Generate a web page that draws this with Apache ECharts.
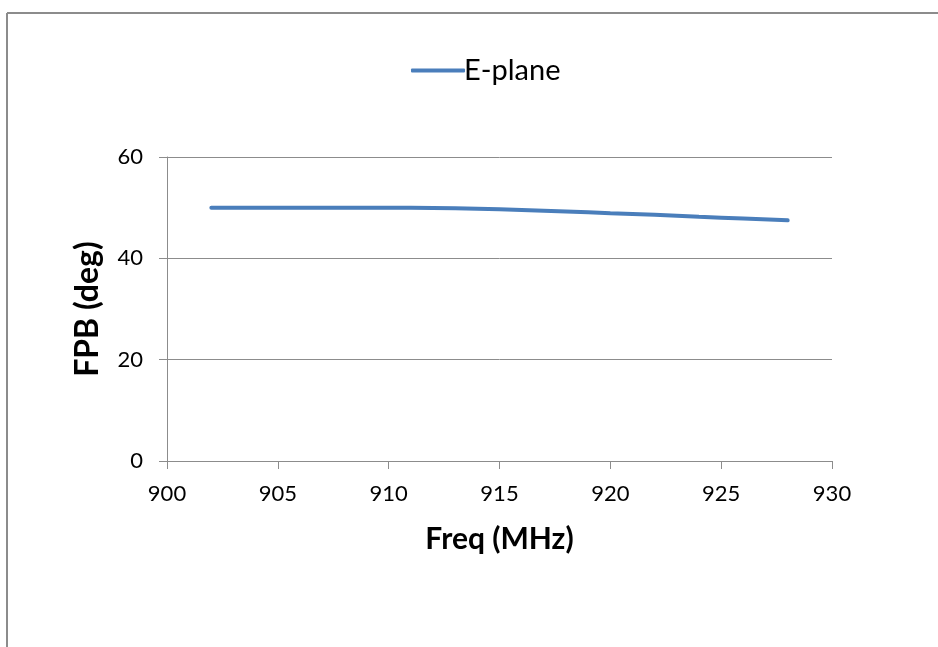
<!DOCTYPE html>
<html><head><meta charset="utf-8">
<script src="https://cdn.jsdelivr.net/npm/echarts@6/dist/echarts.min.js"></script>
<style>html,body{margin:0;padding:0;background:#fff}#c{width:938px;height:647px}</style>
</head><body><div id="c"></div>
<script>
const seriesName = 'E-plane';
const freq = [902, 904, 906, 908, 910, 912, 914, 916, 918, 920, 922, 924, 926, 928];
const fpb  = [50.0, 50.0, 50.0, 50.0, 50.0, 49.95, 49.8, 49.55, 49.25, 48.9, 48.6, 48.2, 47.85, 47.5];
const xTicks = [900, 905, 910, 915, 920, 925, 930];
const yTicks = [0, 20, 40, 60];
const xTitle = 'Freq (MHz)';
const yTitle = 'FPB (deg)';

const chart = echarts.init(document.getElementById('c'), null, {renderer: 'canvas'});
const font = 'Lato, "Open Sans", "Noto Sans", sans-serif';
chart.setOption({
  animation: false,
  backgroundColor: '#fff',
  graphic: [
    {type: 'line', shape: {x1: 7, y1: 13, x2: 938, y2: 13}, style: {stroke: '#8c8c8c', lineWidth: 2}},
    {type: 'line', shape: {x1: 7, y1: 13, x2: 7, y2: 647}, style: {stroke: '#8c8c8c', lineWidth: 2}}
  ],
  legend: {
    data: [seriesName], left: 406, top: 51, itemWidth: 54, itemHeight: 4, itemGap: 0,
    icon: 'roundRect',
    textStyle: {fontFamily: font, fontSize: 29, color: '#000', padding: [0, 0, 0, -6]}
  },
  grid: {left: 167, right: 106, top: 157, bottom: 186, containLabel: false},
  xAxis: {
    type: 'value', min: xTicks[0], max: xTicks[xTicks.length - 1], interval: 5,
    name: xTitle, nameLocation: 'middle', nameGap: 63,
    nameTextStyle: {fontFamily: font, fontSize: 30, fontWeight: 'bold', color: '#000'},
    axisLine: {show: true, onZero: false, lineStyle: {color: '#8c8c8c', width: 1}},
    axisTick: {show: true, inside: false, length: 8, lineStyle: {color: '#8c8c8c'}},
    axisLabel: {fontFamily: font, fontSize: 22, color: '#000', margin: 22},
    splitLine: {show: false}
  },
  yAxis: {
    type: 'value', min: yTicks[0], max: yTicks[yTicks.length - 1], interval: 20,
    name: yTitle, nameLocation: 'middle', nameGap: 63, nameRotate: 90,
    nameTextStyle: {fontFamily: font, fontSize: 32, fontWeight: 'bold', color: '#000'},
    axisLine: {show: true, lineStyle: {color: '#8c8c8c', width: 1}},
    axisTick: {show: true, inside: false, length: 8, lineStyle: {color: '#8c8c8c'}},
    axisLabel: {fontFamily: font, fontSize: 22, color: '#000', margin: 24},
    splitLine: {show: true, lineStyle: {color: '#8c8c8c', width: 1}}
  },
  series: [{
    name: seriesName, type: 'line', smooth: true, showSymbol: false, symbol: 'none',
    data: freq.map((f, i) => [f, fpb[i]]),
    lineStyle: {color: '#4a7ebb', width: 4, cap: 'round'},
    itemStyle: {color: '#4a7ebb'}
  }]
});
</script></body></html>
